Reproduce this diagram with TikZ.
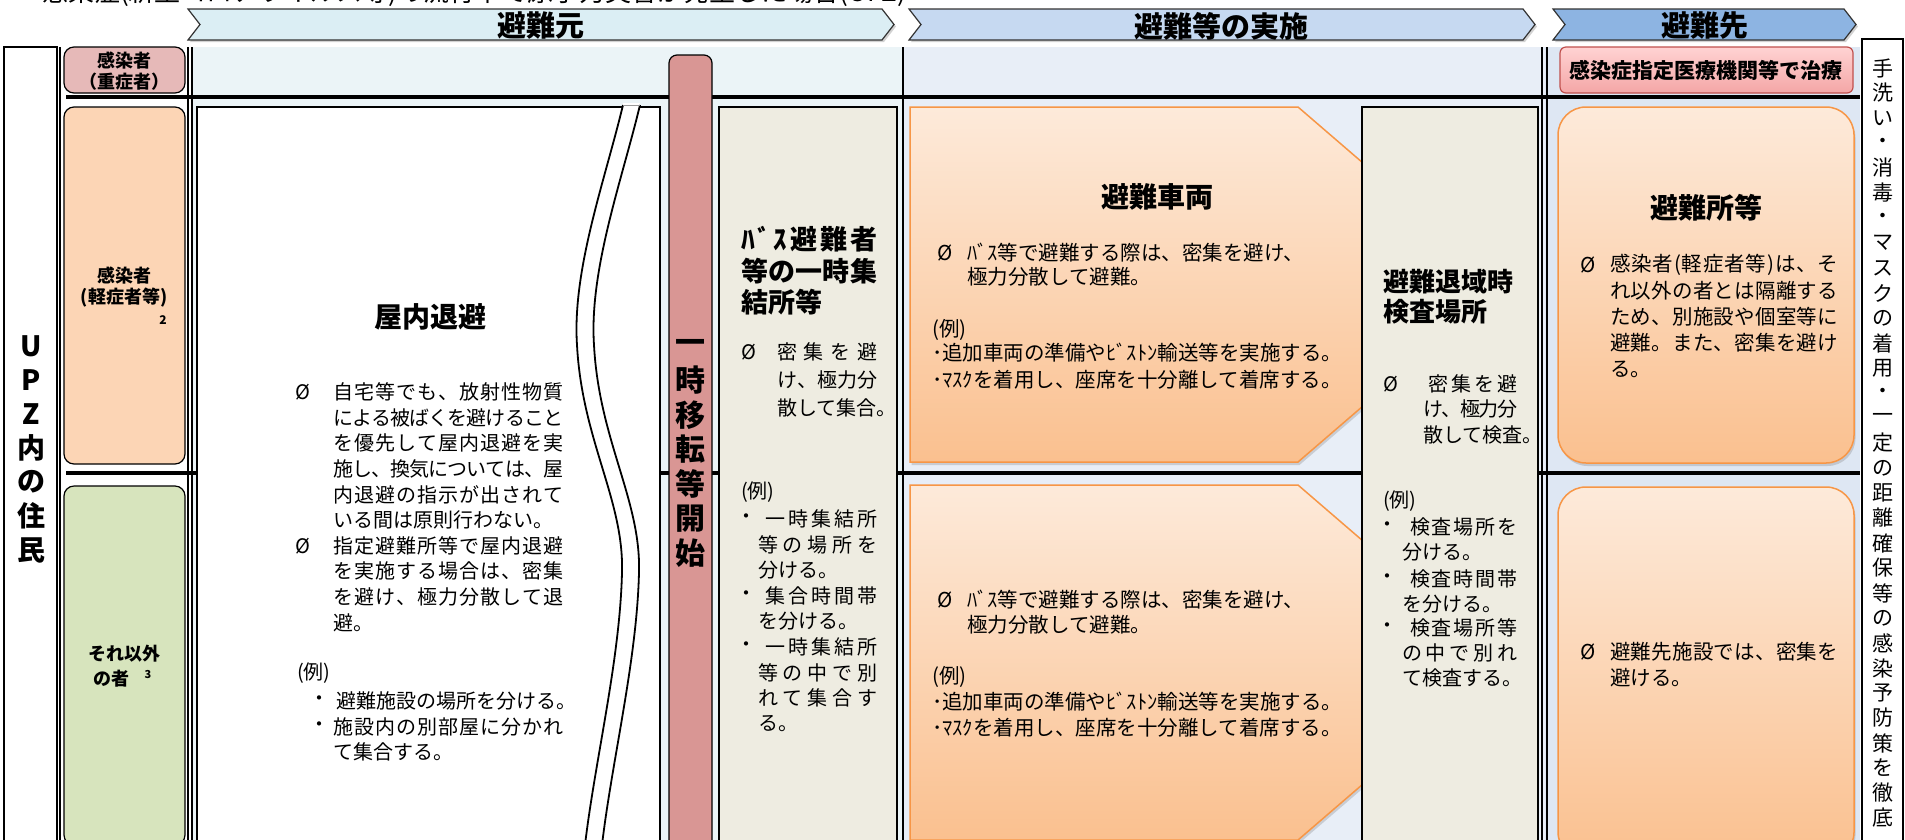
\documentclass[tikz,border=0pt]{standalone}
\usepackage{fontspec}
\setmainfont{Noto Sans CJK JP}
\usetikzlibrary{shadows}
\definecolor{chevA}{HTML}{DBEEF4}
\definecolor{chevB}{HTML}{C6D9F1}
\definecolor{chevC}{HTML}{8DB4E2}
\definecolor{regA}{HTML}{EBF4F7}
\definecolor{regB}{HTML}{E8EEF7}
\definecolor{regC}{HTML}{DEE7F3}
\definecolor{severe}{HTML}{E6B9B8}
\definecolor{mild}{HTML}{FCD5B5}
\definecolor{other}{HTML}{D7E4BD}
\definecolor{barred}{HTML}{D99694}
\definecolor{beige}{HTML}{EEECE1}
\definecolor{orgtop}{HTML}{FDEADA}
\definecolor{orgbot}{HTML}{FAC08F}
\definecolor{orgline}{HTML}{F79646}
\definecolor{pinktop}{HTML}{FFD3D3}
\definecolor{pinkbot}{HTML}{F4A6A6}
\definecolor{pinkline}{HTML}{C0504D}
\def\spfirst#1{#1\sprest}
\def\sprest#1{\ifx#1\relax\else\hskip 0pt plus 1fill minus 1fill#1\expandafter\sprest\fi}
\newcommand\jl[2]{\hbox to #1{\spfirst#2\relax}}
\newcommand\fs[1]{\fontsize{#1}{#1}\selectfont}
\tikzset{
 tx/.style={anchor=west, inner sep=0pt},
 ctr/.style={inner sep=0pt},
 thinline/.style={line width=1.2pt},
 boxline/.style={line width=2.5pt, draw=black},
 lbl/.style={draw=black, line width=1.2pt, rounded corners=10pt},
 orng/.style={draw=orgline, line width=1.5pt, top color=orgtop, bottom color=orgbot, drop shadow={opacity=0.3, shadow xshift=1.5pt, shadow yshift=-3pt}},
 chev/.style={draw=black!80, line width=1.2pt, drop shadow={opacity=0.35, shadow xshift=2pt, shadow yshift=-2pt}},
 sepline/.style={line width=4pt},
 body/.style={tx, font=\fs{20}},
 bodyc/.style={ctr, font=\fs{20}},
 vbody/.style={tx, font=\fs{20.5}},
}
\begin{document}
\begin{tikzpicture}[x=1pt,y=-1pt]
\useasboundingbox (0,0) rectangle (1905,839);
\clip (0,0) rectangle (1905,839);
\fill[white] (0,0) rectangle (1905,839);
% cut-off title
\node[anchor=base west, inner sep=0pt, font=\fs{26}] (title) at (42,1) {感染症(新型コロナウイルス等)の流行下で原子力災害が発生した場合(UPZ)};
% header chevrons
\path[chev, fill=chevA] (188,9) -- (882,9) -- (894,24.5) -- (882,40) -- (188,40) -- (200,24.5) -- cycle;
\path[chev, fill=chevB] (909,9) -- (1523,9) -- (1535,24.5) -- (1523,40) -- (909,40) -- (921,24.5) -- cycle;
\path[chev, fill=chevC] (1553,9) -- (1844,9) -- (1856,24.5) -- (1844,40) -- (1553,40) -- (1565,24.5) -- cycle;
\node[ctr, font=\bfseries\fs{29}] (hA) at (541,26) {避難元};
\node[ctr, font=\bfseries\fs{29}] (hB) at (1221,26) {避難等の実施};
\node[ctr, font=\bfseries\fs{29}] (hC) at (1705,26) {避難先};
% region backgrounds
\fill[regA] (191,47) rectangle (903,845);
\fill[regB] (903,47) rectangle (1545,845);
\fill[regC] (1545,47) rectangle (1860,845);
% grid lines
\draw[thinline] (188,47) -- (188,845);
\draw[thinline] (192,47) -- (192,845);
\draw[thinline] (903,47) -- (903,845);
\draw[thinline] (1542,47) -- (1542,845);
\draw[thinline] (1547,47) -- (1547,845);
\draw[thinline] (60,47) -- (60,845);
\draw[sepline] (66,97) -- (1860,97);
\draw[sepline] (66,473) -- (1860,473);
% UPZ column
\draw[thinline, fill=white] (4,47) rectangle (57,845);
\foreach \c [count=\i] in {U,P,Z,内,の,住,民}
  \node[ctr, font=\bfseries\fs{28}] (upz\i) at (31,{346+34*(\i-1)}) {\c};
% label column
\draw[lbl, fill=severe] (64,47) rectangle (185,93);
\node[ctr, font=\bfseries\fs{18}] (sev1) at (124,61) {感染者};
\node[ctr, font=\bfseries\fs{18}] (sev2) at (124,82) {（重症者）};
\draw[lbl, fill=mild] (64,107) rectangle (185,464);
\node[ctr, font=\bfseries\fs{18}] (mild1) at (124,276) {感染者};
\node[ctr, font=\bfseries\fs{18}] (mild2) at (124,298) {(軽症者等)};
\node[ctr, font=\bfseries\fs{12}] (mild3) at (163,320) {2};
\draw[lbl, fill=other] (64,486) rectangle (185,845);
\node[ctr, font=\bfseries\fs{18}] (oth1) at (124,654) {それ以外};
\node[ctr, font=\bfseries\fs{18}] (oth2) at (111,679) {の者};
\node[ctr, font=\bfseries\fs{11}] (oth3) at (148,674) {3};
% right vertical text box
\draw[thinline, fill=white] (1862,39) rectangle (1903,845);
\foreach \c [count=\i] in {手,洗,い,・,消,毒,・,マ,ス,ク,の,着,用,・,一,定,の,距,離,確,保,等,の,感,染,予,防,策,を,徹,底}
  \node[ctr, font=\fs{21}] (rv\i) at (1883,{68+25*(\i-1)}) {\c};
% pink box
\path[draw=pinkline, line width=1.2pt, rounded corners=6pt, top color=pinktop, bottom color=pinkbot] (1560,47) rectangle (1853,93);
\node[ctr, font=\bfseries\fs{21}] (hosp) at (1706,70) {感染症指定医療機関等で治療};
% indoor shelter box
\draw[boxline, fill=white] (197,107) rectangle (660,850);
\fill[white] (623,103) .. controls (605,180) and (572,270) .. (577,345) .. controls (582,440) and (624,500) .. (622,572) .. controls (620,660) and (595,760) .. (585,845) -- (602,845) .. controls (612,760) and (637,660) .. (639,572) .. controls (641,500) and (599,440) .. (594,345) .. controls (589,270) and (622,180) .. (640,103) -- cycle;
\draw[line width=1.8pt] (623,105) .. controls (605,180) and (572,270) .. (577,345) .. controls (582,440) and (624,500) .. (622,572) .. controls (620,660) and (595,760) .. (585,845);
\draw[line width=1.8pt] (640,105) .. controls (622,180) and (589,270) .. (594,345) .. controls (599,440) and (641,500) .. (639,572) .. controls (637,660) and (612,760) .. (602,845);
\draw[black!40, line width=0.6pt] (623,105) -- (640,105);
\node[ctr, font=\bfseries\fs{28}] (okt) at (430,317) {屋内退避};
\node[body] (okb1) at (295,392) {Ø};
\node[body] (okb2) at (295,546) {Ø};
\foreach \t [count=\i] in {
 {\jl{230pt}{自宅等でも、放射性物質}},
 {\jl{230pt}{による被ばくを避けること}},
 {\jl{230pt}{を優先して屋内退避を実}},
 {\jl{230pt}{施し、換気については、屋}},
 {\jl{230pt}{内退避の指示が出されて}},
 {いる間は原則行わない。},
 {\jl{230pt}{指定避難所等で屋内退避}},
 {\jl{230pt}{を実施する場合は、密集}},
 {\jl{230pt}{を避け、極力分散して退}},
 {避。}}
 \node[body] (ok\i) at (333,{392+25.6*(\i-1)}) {\t};
\node[body] (okex) at (297,673) {(例)};
\node[bodyc] (okd1) at (319,701) {・};
\node[body] (oke1) at (336,701) {避難施設の場所を分ける。};
\node[bodyc] (okd2) at (319,727) {・};
\node[body] (oke2) at (333,727) {\jl{230pt}{施設内の別部屋に分かれ}};
\node[body] (oke3) at (333,752) {て集合する。};
% temporary relocation bar
\draw[thinline, fill=barred, rounded corners=8pt] (669,55) rectangle (712,850);
\foreach \c [count=\i] in {一,時,移,転,等,開,始}
  \node[ctr, font=\bfseries\fs{30}] (bar\i) at (690.5,{346+34.5*(\i-1)}) {\c};
% bus assembly box
\draw[boxline, fill=beige] (719,107) rectangle (897,850);
\node[tx, font=\bfseries\fs{27}] (bst1) at (741,239) {\jl{136pt}{ﾊﾞｽ避難者}};
\node[tx, font=\bfseries\fs{27}] (bst2) at (741,271) {\jl{136pt}{等の一時集}};
\node[tx, font=\bfseries\fs{27}] (bst3) at (741,302) {結所等};
\node[body] (bsb) at (741,352) {Ø};
\node[body] (bs1) at (777,352) {\jl{100pt}{密集を避}};
\node[body] (bs2) at (777,380) {\jl{100pt}{け、極力分}};
\node[body] (bs3) at (777,408) {散して集合。};
\node[body] (bsex) at (741,492) {(例)};
\node[bodyc] (bsd1) at (746,519) {・};
\node[body] (bse1) at (765,519) {\jl{112pt}{一時集結所}};
\node[body] (bse2) at (758,545) {\jl{119pt}{等の場所を}};
\node[body] (bse3) at (758,570) {分ける。};
\node[bodyc] (bsd2) at (746,596) {・};
\node[body] (bse4) at (765,596) {\jl{112pt}{集合時間帯}};
\node[body] (bse5) at (758,621) {を分ける。};
\node[bodyc] (bsd3) at (746,647) {・};
\node[body] (bse6) at (765,647) {\jl{112pt}{一時集結所}};
\node[body] (bse7) at (758,673) {\jl{119pt}{等の中で別}};
\node[body] (bse8) at (758,698) {\jl{119pt}{れて集合す}};
\node[body] (bse9) at (758,724) {る。};
% evacuation vehicle shapes
\path[orng] (910,107) -- (1298,107) -- (1504,284.5) -- (1298,462) -- (910,462) -- cycle;
\path[orng] (910,485) -- (1298,485) -- (1504,662.5) -- (1298,840) -- (910,840) -- cycle;
\node[ctr, font=\bfseries\fs{28}] (vt) at (1157,197) {避難車両};
\node[vbody] (vb1) at (937,253) {Ø};
\node[vbody] (v1) at (967,253) {ﾊﾞｽ等で避難する際は、密集を避け、};
\node[vbody] (v2) at (967,277) {極力分散して避難。};
\node[vbody] (vex) at (932,330) {(例)};
\node[vbody] (v3) at (932,353) {･追加車両の準備やﾋﾞｽﾄﾝ輸送等を実施する。};
\node[vbody] (v4) at (932,380) {･ﾏｽｸを着用し、座席を十分離して着席する。};
\node[vbody] (wb1) at (937,600) {Ø};
\node[vbody] (w1) at (967,600) {ﾊﾞｽ等で避難する際は、密集を避け、};
\node[vbody] (w2) at (967,625) {極力分散して避難。};
\node[vbody] (wex) at (932,677) {(例)};
\node[vbody] (w3) at (932,702) {･追加車両の準備やﾋﾞｽﾄﾝ輸送等を実施する。};
\node[vbody] (w4) at (932,728) {･ﾏｽｸを着用し、座席を十分離して着席する。};
% screening box
\draw[boxline, fill=beige] (1362,107) rectangle (1538,850);
\node[tx, font=\bfseries\fs{26}] (kt1) at (1383,282) {避難退域時};
\node[tx, font=\bfseries\fs{26}] (kt2) at (1383,312) {検査場所};
\node[body] (kb) at (1383,384) {Ø};
\node[body] (k1) at (1428,384) {\jl{89pt}{密集を避}};
\node[body] (k2) at (1423,409) {\jl{94pt}{け、極力分}};
\node[body] (k3) at (1423,435) {散して検査。};
\node[body] (kex) at (1383,501) {(例)};
\node[bodyc] (kd1) at (1387,527) {・};
\node[body] (ke1) at (1410,527) {\jl{107pt}{検査場所を}};
\node[body] (ke2) at (1402,552) {分ける。};
\node[bodyc] (kd2) at (1387,579) {・};
\node[body] (ke3) at (1410,579) {\jl{107pt}{検査時間帯}};
\node[body] (ke4) at (1402,604) {を分ける。};
\node[bodyc] (kd3) at (1387,628) {・};
\node[body] (ke5) at (1410,628) {\jl{107pt}{検査場所等}};
\node[body] (ke6) at (1402,653) {\jl{115pt}{の中で別れ}};
\node[body] (ke7) at (1402,678) {て検査する。};
% shelters
\path[orng, rounded corners=28pt] (1558,107) rectangle (1854,463);
\path[orng, rounded corners=28pt] (1558,487) rectangle (1854,860);
\node[ctr, font=\bfseries\fs{28}] (st) at (1706,208) {避難所等};
\node[vbody] (sb1) at (1580,265) {Ø};
\node[vbody] (s1) at (1610,265) {\jl{228pt}{感染者(軽症者等)は、そ}};
\node[vbody] (s2) at (1610,291) {\jl{228pt}{れ以外の者とは隔離する}};
\node[vbody] (s3) at (1610,317) {\jl{228pt}{ため、別施設や個室等に}};
\node[vbody] (s4) at (1610,343) {\jl{228pt}{避難。また、密集を避け}};
\node[vbody] (s5) at (1610,369) {る。};
\node[vbody] (sb2) at (1580,652) {Ø};
\node[vbody] (s6) at (1610,652) {\jl{228pt}{避難先施設では、密集を}};
\node[vbody] (s7) at (1610,678) {避ける。};
\end{tikzpicture}
\end{document}
